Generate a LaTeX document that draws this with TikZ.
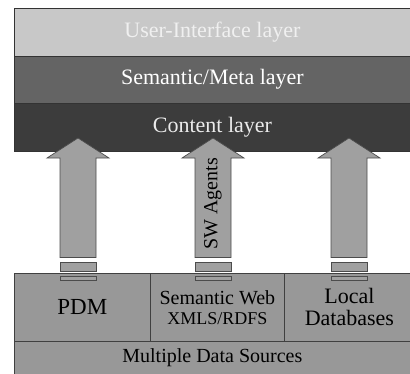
\documentclass[tikz,border=0pt]{standalone}
\usepackage{fontspec}
\setmainfont{Liberation Serif}
\begin{document}
\begin{tikzpicture}[x=1pt,y=-1pt,
  layer/.style={draw=black!80,line width=0.8pt,minimum width=396pt,minimum height=47.5pt,inner sep=0pt,anchor=north west,font=\fontsize{22}{24}\selectfont},
  srcbox/.style={draw=black!75,line width=0.7pt,fill=srcgray,inner sep=0pt,anchor=north west,align=center},
  arrowbody/.style={draw=black!70,line width=0.7pt,fill=arrgray},
  piece/.style={draw=black!70,line width=0.7pt,fill=arrgray}
]
\definecolor{uigray}{RGB}{200,200,200}
\definecolor{semgray}{RGB}{100,100,100}
\definecolor{congray}{RGB}{60,60,60}
\definecolor{arrgray}{RGB}{160,160,160}
\definecolor{srcgray}{RGB}{152,152,152}
\useasboundingbox (0,0) rectangle (410,373);
% layers
\node[layer,fill=uigray,text=white!94!black] (ui) at (14,8) {User-Interface layer};
\node[layer,fill=semgray,text=white] (sem) at (14,55.5) {Semantic/Meta layer};
\node[layer,fill=congray,text=white!92!black] (con) at (14,103) {Content layer};
% source boxes
\node[srcbox,minimum width=136pt,minimum height=68pt,font=\fontsize{23}{25}\selectfont] (pdm) at (14,273) {PDM};
\node[srcbox,minimum width=134pt,minimum height=68pt,font=\fontsize{20}{22}\selectfont] (sw) at (150,273) {Semantic Web\\[-2pt]{\fontsize{18}{20}\selectfont XMLS/RDFS}};
\node[srcbox,minimum width=130pt,minimum height=68pt,font=\fontsize{22}{24}\selectfont] (ldb) at (284,273) {Local\\[-2pt]Databases};
\node[srcbox,minimum width=396pt,minimum height=33pt,font=\fontsize{20}{22}\selectfont] (mds) at (14,341) {Multiple Data Sources};
% arrows
\foreach \cx/\nm in {78/a1,213/a2,349/a3}{
  \coordinate (\nm tip) at (\cx,138);
  \draw[arrowbody] (\nm tip) -- (\cx+31,158) -- (\cx+18,158) -- (\cx+18,257.5) -- (\cx-18,257.5) -- (\cx-18,158) -- (\cx-31,158) -- cycle;
  \draw[piece] (\cx-18,262) rectangle (\cx+18,271);
  \draw[piece] (\cx-18,276) rectangle (\cx+18,280);
}
\node[rotate=90,font=\fontsize{20}{22}\selectfont,inner sep=0pt] (agents) at (213,204) {SW Agents};
\end{tikzpicture}
\end{document}
